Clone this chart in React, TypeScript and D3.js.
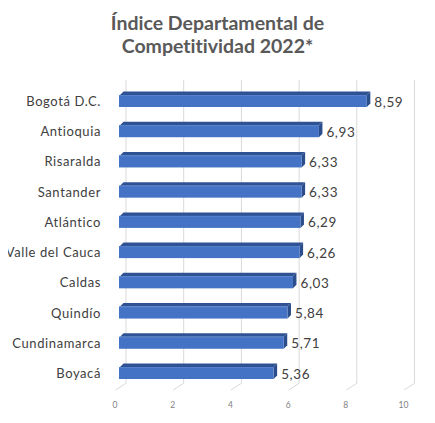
import React from "react";
import * as d3 from "d3";

const categories = [
  "Bogotá D.C.",
  "Antioquia",
  "Risaralda",
  "Santander",
  "Atlántico",
  "Valle del Cauca",
  "Caldas",
  "Quindío",
  "Cundinamarca",
  "Boyacá",
];
const values = [8.59, 6.93, 6.33, 6.33, 6.29, 6.26, 6.03, 5.84, 5.71, 5.36];
const valueLabels = ["8,59", "6,93", "6,33", "6,33", "6,29", "6,26", "6,03", "5,84", "5,71", "5,36"];
const ticks = [0, 2, 4, 6, 8, 10];
const titleLines = ["Índice Departamental de", "Competitividad 2022*"];

const W = 435;
const H = 423;
const FONT = "Lato, 'Open Sans', sans-serif";

export default function App() {
  const x = d3.scaleLinear().domain([0, 10]).range([119, 407.5]);
  const y = d3.scalePoint<string>().domain(categories).range([101, 373]);
  const faceH = 12;
  const depthX = 3.5;
  const depthY = 3.5;
  const floorFrontY = 390;
  const backDX = 7;
  const backDY = -6.7;
  const gridTop = 80;

  return (
    <div style={{ margin: -8, width: W, height: H, background: "#fff" }}>
      <svg width={W} height={H} style={{ display: "block", fontVariantLigatures: "none" }}>
        <rect width={W} height={H} fill="#fff" />
        {/* title */}
        {titleLines.map((t, i) => (
          <text
            key={t}
            x={217.5}
            y={29.5 + i * 23.2}
            textAnchor="middle"
            fontFamily={FONT}
            fontWeight={700}
            fontSize={19.5}
            fill="#595959"
          >
            {t}
          </text>
        ))}
        {/* gridlines on back wall and floor */}
        {ticks.map((t) => {
          const xb = x(t) + backDX;
          const xf = x(t) - 3.5;
          const yb = floorFrontY + backDY;
          return (
            <g key={t}>
              <line x1={xb} x2={xb} y1={gridTop} y2={yb} stroke="#d9d9d9" strokeWidth={1} />
              <line x1={xf} x2={xb} y1={floorFrontY} y2={yb} stroke="#d9d9d9" strokeWidth={1} />
              <text
                x={x(t) - 4}
                y={408}
                textAnchor="middle"
                fontFamily={FONT}
                fontSize={8.5}
                fill="#7f7f7f"
              >
                {t}
              </text>
            </g>
          );
        })}
        {/* bars */}
        {categories.map((c, i) => {
          const cy = y(c) as number;
          const x0 = x(0);
          const x1 = x(values[i]);
          const top = cy - faceH / 2;
          const bot = cy + faceH / 2;
          const topPts = [
            [x0 + 1, top],
            [x1, top],
            [x1 + depthX, top - depthY],
            [x0 + depthX + 1, top - depthY],
          ]
            .map((p) => p.join(","))
            .join(" ");
          const sidePts = [
            [x1, top],
            [x1 + depthX, top - depthY],
            [x1 + depthX, bot - depthY],
            [x1, bot],
          ]
            .map((p) => p.join(","))
            .join(" ");
          return (
            <g key={c}>
              <polygon points={topPts} fill="#2f5294" />
              <polygon points={sidePts} fill="#2c4d8c" />
              <rect x={x0} y={top} width={x1 - x0} height={faceH} fill="#4472c4" />
              <line x1={x0} x2={x1} y1={top + 0.5} y2={top + 0.5} stroke="#5580cc" strokeWidth={1} />
              <text
                x={101}
                y={cy + 5}
                textAnchor="end"
                fontFamily={FONT}
                fontSize={13}
                letterSpacing={0.6}
                fill="#404040"
              >
                {c}
              </text>
              <text
                x={x1 + depthX + 4}
                y={cy + 5.5}
                fontFamily={FONT}
                fontSize={13.5}
                letterSpacing={0.6}
                fill="#404040"
              >
                {valueLabels[i]}
              </text>
            </g>
          );
        })}
      </svg>
    </div>
  );
}
